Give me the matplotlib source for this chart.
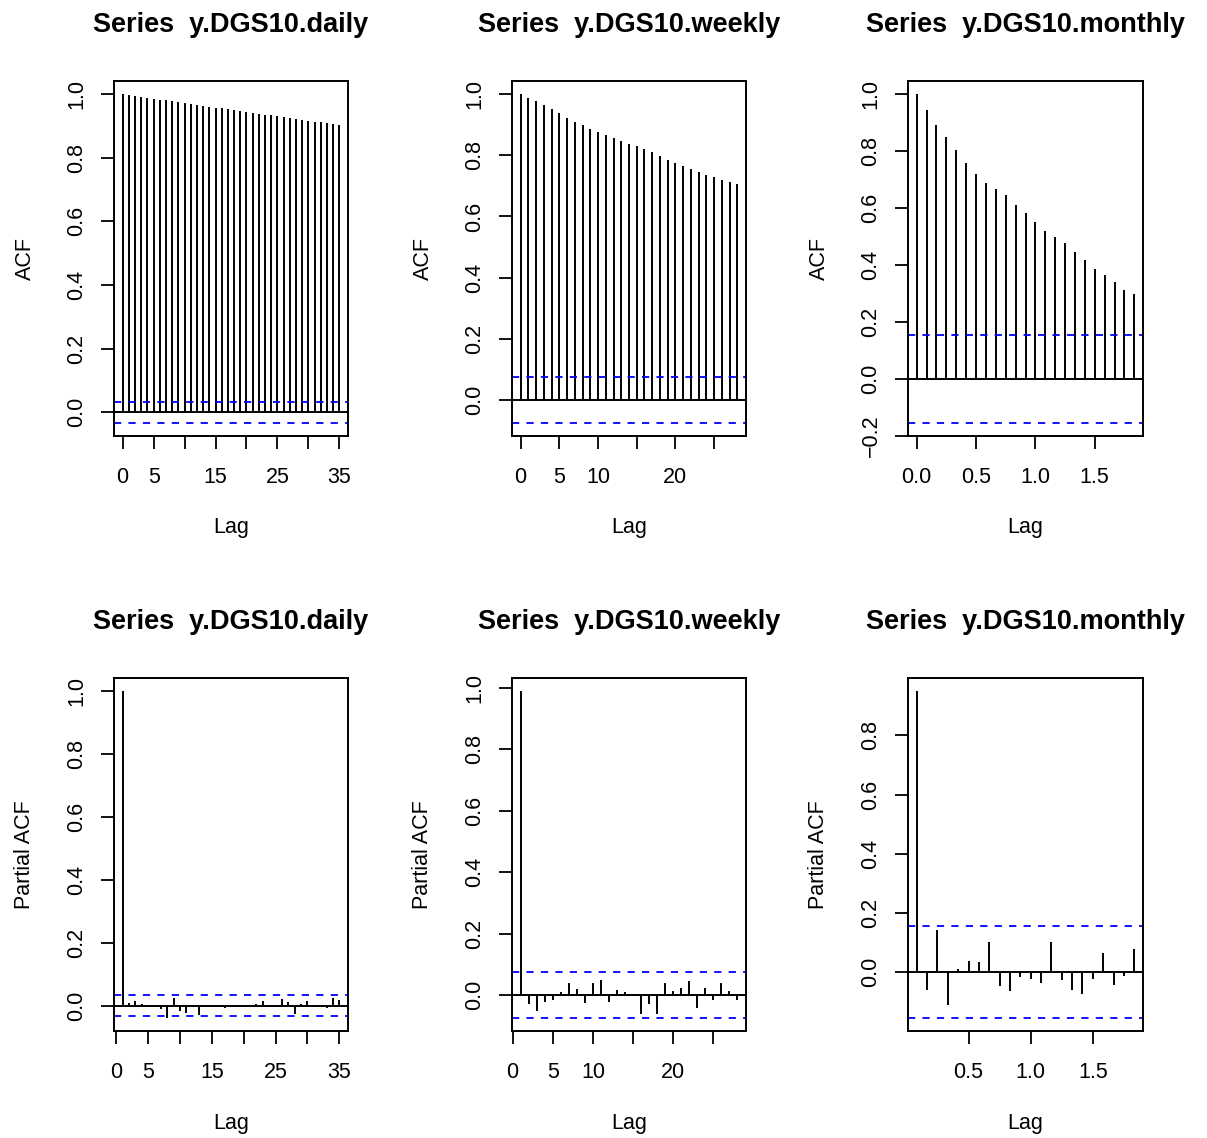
import matplotlib
matplotlib.use("Agg")
import matplotlib.pyplot as plt
import numpy as np

plt.rcParams['font.family'] = ['Liberation Sans', 'DejaVu Sans']

# ACF values (lag 0 first)
acf_daily = [1.000, 0.997, 0.994, 0.992, 0.989, 0.986, 0.983, 0.981, 0.978, 0.975,
             0.972, 0.970, 0.967, 0.964, 0.961, 0.958, 0.956, 0.953, 0.950, 0.947,
             0.944, 0.942, 0.939, 0.936, 0.933, 0.930, 0.927, 0.925, 0.922, 0.919,
             0.916, 0.913, 0.911, 0.908, 0.906, 0.904]
acf_weekly = [1.000, 0.989, 0.977, 0.964, 0.950, 0.937, 0.922, 0.910, 0.899, 0.886,
              0.875, 0.867, 0.857, 0.847, 0.838, 0.830, 0.820, 0.810, 0.797, 0.786,
              0.776, 0.765, 0.755, 0.747, 0.737, 0.728, 0.720, 0.712, 0.705]
acf_monthly = [1.000, 0.946, 0.890, 0.850, 0.805, 0.759, 0.720, 0.689, 0.668, 0.644,
               0.612, 0.582, 0.552, 0.519, 0.497, 0.476, 0.447, 0.416, 0.387, 0.366,
               0.340, 0.312, 0.297]

# PACF values (lag 1 first)
pacf_daily = [0.999, 0.007, 0.014, 0.004, -0.002, 0.002, -0.010, -0.039, 0.025, -0.016,
              -0.023, 0.002, -0.029, 0.002, -0.004, -0.005, -0.006, -0.005, -0.003, -0.003,
              -0.002, 0.004, 0.014, -0.003, -0.003, 0.020, 0.011, -0.027, 0.006, 0.014,
              0.001, -0.002, -0.006, 0.024, 0.019]
pacf_weekly = [0.990, -0.029, -0.054, -0.023, -0.018, 0.008, 0.040, 0.018, -0.025, 0.039,
               0.047, -0.023, 0.015, 0.010, 0.004, -0.063, -0.028, -0.061, 0.039, 0.012,
               0.021, 0.045, -0.044, 0.024, -0.017, 0.038, 0.013, -0.016]
pacf_monthly = [0.950, -0.062, 0.143, -0.110, 0.012, 0.038, 0.034, 0.100, -0.047, -0.065,
                -0.018, -0.022, -0.037, 0.102, -0.026, -0.061, -0.073, -0.022, 0.063, -0.043,
                -0.012, 0.077]

clim = {'daily': 0.033, 'weekly': 0.075, 'monthly': 0.155}
freq = {'daily': 1, 'weekly': 1, 'monthly': 12}

xticks = {'daily': [0, 5, 10, 15, 20, 25, 30, 35],
          'weekly': [0, 5, 10, 15, 20, 25],
          'monthly': [0.0, 0.5, 1.0, 1.5]}
xticklabels = {'daily': ['0', '5', '', '15', '', '25', '', '35'],
               'weekly': ['0', '5', '10', '', '20', ''],
               'monthly': ['0.0', '0.5', '1.0', '1.5']}


def r_lim(lo, hi):
    d = hi - lo
    return lo - 0.04 * d, hi + 0.04 * d


def yfmt(v, pos):
    return ('%.1f' % v).replace('-', '\u2212')


W, H = 1207, 1138
fig = plt.figure(figsize=(W / 100, H / 100), dpi=100)

cols = [(114, 348), (512, 746), (908, 1143)]
rows = [(81, 436), (678, 1031)]

panels = [
    ('daily', acf_daily, 0, 'ACF'),
    ('weekly', acf_weekly, 0, 'ACF'),
    ('monthly', acf_monthly, 0, 'ACF'),
    ('daily', pacf_daily, 1, 'Partial ACF'),
    ('weekly', pacf_weekly, 1, 'Partial ACF'),
    ('monthly', pacf_monthly, 1, 'Partial ACF'),
]

for i, (name, vals, start, ylab) in enumerate(panels):
    (x0, x1) = cols[i % 3]
    (y0, y1) = rows[i // 3]
    ax = fig.add_axes([x0 / W, 1 - y1 / H, (x1 - x0) / W, (y1 - y0) / H])
    vals = np.array(vals)
    lags = (np.arange(len(vals)) + start) / freq[name]
    c = clim[name]

    ax.vlines(lags, 0, vals, colors='black', lw=1.4)
    ax.axhline(0, color='black', lw=1.4)
    for s in (c, -c):
        ax.axhline(s, color='blue', lw=1.3, linestyle=(0, (4, 4)))

    ax.set_xlim(*r_lim(lags.min(), lags.max()))
    ax.set_ylim(*r_lim(min(vals.min(), -c), max(vals.max(), c)))

    lo, hi = ax.get_xlim()
    tk = [(t, l) for t, l in zip(xticks[name], xticklabels[name]) if lo <= t <= hi]
    ax.set_xticks([t for t, _ in tk])
    ax.set_xticklabels([l for _, l in tk])
    ax.yaxis.set_major_locator(matplotlib.ticker.MultipleLocator(0.2))
    ax.yaxis.set_major_formatter(matplotlib.ticker.FuncFormatter(yfmt))

    ax.tick_params(axis='both', direction='out', length=9.5, width=1.3, labelsize=15.5)
    ax.tick_params(axis='x', pad=12.5)
    ax.tick_params(axis='y', pad=9.5, labelrotation=90)
    for lb in ax.get_yticklabels():
        lb.set_va('center')
    for sp in ax.spines.values():
        sp.set_linewidth(1.4)

    ax.set_xlabel('Lag', fontsize=15.5, va='center')
    ax.xaxis.set_label_coords(0.5, -92 / (y1 - y0))
    ax.set_ylabel(ylab, fontsize=15.5, va='center')
    ax.yaxis.set_label_coords(-89 / (x1 - x0), 0.5)
    ax.set_title('Series  y.DGS10.' + name, fontsize=19.5, fontweight='bold',
                 y=1 + 49 / (y1 - y0), pad=0)

fig.savefig('out.png', dpi=100)
